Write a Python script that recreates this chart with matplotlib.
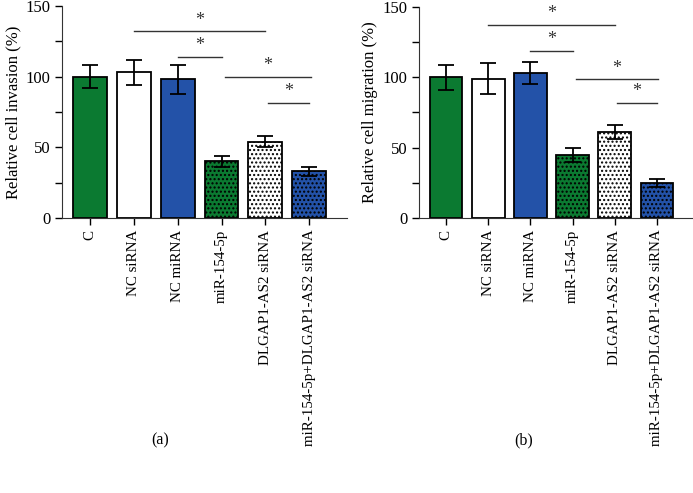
import numpy as np
import matplotlib
matplotlib.use("Agg")
import matplotlib.pyplot as plt

plt.rcParams['font.family'] = ['Liberation Serif', 'DejaVu Serif']
plt.rcParams['hatch.linewidth'] = 1.0
plt.rcParams['hatch.color'] = 'black'

# groups on the x axis
groups = ["C", "NC siRNA", "NC miRNA", "miR-154-5p", "DLGAP1-AS2 siRNA",
          "miR-154-5p+DLGAP1-AS2 siRNA"]

# (a) invasion
invasion = [100, 103, 98, 40, 54, 33]
invasion_err = [8, 9, 10, 4, 4, 3.3]

# (b) migration
migration = [100, 99, 103, 45, 61, 25]
migration_err = [9, 11, 8, 5, 5, 3]

# significance brackets: (start, end, height)
sig_a = [(1, 4, 132), (2, 3, 114), (3.07, 5.04, 100), (4.05, 5.0, 81.5)]
sig_b = [(1, 4, 137), (2, 3, 118.5), (3.07, 5.04, 98.5), (4.05, 5.0, 81.5)]

green = "#0b7a31"
blue = "#2352a8"
colors = [green, "white", blue, green, "white", blue]
hatches = [None, None, None, "....", "....", "...."]


def draw_panel(ax, vals, errs, sigs, ylabel):
    x = np.arange(len(groups))
    bars = ax.bar(x, vals, width=0.77, color=colors, edgecolor="black",
                  linewidth=1.3, zorder=2)
    for b, h in zip(bars, hatches):
        if h:
            b.set_hatch(h)
    ax.errorbar(x, vals, yerr=errs, fmt="none", ecolor="black",
                elinewidth=1.3, capsize=6, capthick=1.3, zorder=3)
    for x0, x1, y in sigs:
        ax.plot([x0, x1], [y, y], color="#333333", lw=1.0, zorder=3)
        ax.text((x0 + x1) / 2, y + 2, "*", ha="center", va="bottom",
                fontsize=13, color="#333333")
    ax.set_ylim(0, 150)
    ax.set_xlim(-0.64, 5.86)
    ax.set_yticks([0, 50, 100, 150])
    ax.set_yticks([25, 75, 125], minor=True)
    ax.set_xticks(x)
    ax.set_xticklabels(groups, rotation=90, fontsize=10.8)
    ax.tick_params(axis="y", labelsize=12, length=5, width=1, direction="out")
    ax.tick_params(axis="y", which="minor", length=5, width=1)
    ax.tick_params(axis="x", length=5, width=1, direction="out")
    ax.spines["top"].set_visible(False)
    ax.spines["right"].set_visible(False)
    ax.spines["left"].set_color("#333333")
    ax.spines["bottom"].set_color("#333333")
    ax.set_ylabel(ylabel, fontsize=12, labelpad=3)


fig = plt.figure(figsize=(6.93, 4.93), dpi=100)
ax1 = fig.add_axes([0.0895, 0.558, 0.411, 0.43])
ax2 = fig.add_axes([0.605, 0.558, 0.395, 0.428])

draw_panel(ax1, invasion, invasion_err, sig_a, "Relative cell invasion (%)")
draw_panel(ax2, migration, migration_err, sig_b, "Relative cell migration (%)")

fig.text(0.231, 0.107, "(a)", ha="center", va="center", fontsize=11.5)
fig.text(0.755, 0.107, "(b)", ha="center", va="center", fontsize=11.5)

fig.savefig("out.png", dpi=100)
